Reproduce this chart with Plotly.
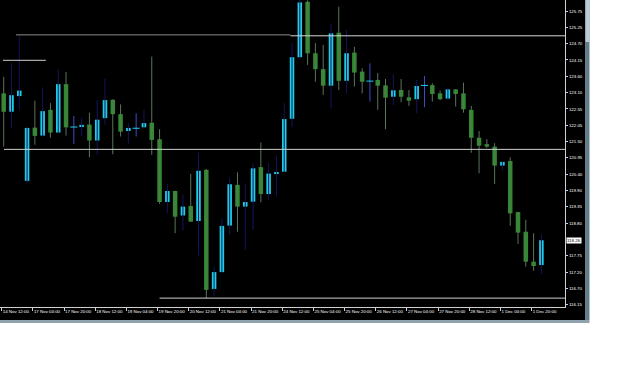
import plotly.graph_objects as go

# ---- data (H4 candles) ----
opens = [123.06, 122.46, 122.97, 120.20, 121.94, 121.68, 122.52, 121.78, 123.36, 121.96,
         121.97, 122.04, 121.52, 122.25, 122.85, 122.38, 121.83, 121.92, 121.95, 122.10,
         121.56, 119.51, 119.87, 119.07, 119.38, 118.89, 120.56, 116.67, 117.22, 118.74,
         120.07, 119.36, 119.52, 120.65, 119.77, 120.43, 120.50, 122.23, 124.24, 126.05,
         124.37, 123.85, 123.31, 125.04, 123.47, 124.39, 123.77, 123.46, 123.50, 123.32,
         122.95, 123.17, 122.93, 122.87, 123.32, 123.33, 123.06, 122.89, 123.19, 123.06,
         122.52, 121.61, 121.40, 121.32, 120.70, 120.85, 119.18, 118.54, 117.56, 117.45]
highs = [123.60, 124.06, 124.91, 121.96, 122.82, 123.26, 122.74, 123.85, 123.76, 122.32,
         122.25, 122.43, 122.84, 123.55, 122.86, 122.70, 122.08, 122.41, 122.52, 124.26,
         121.89, 120.10, 119.88, 119.74, 120.43, 121.12, 120.59, 117.40, 118.98, 120.29,
         120.48, 120.12, 120.78, 121.45, 120.78, 121.02, 122.74, 124.70, 126.11, 126.10,
         124.70, 124.64, 125.35, 125.89, 125.13, 124.58, 123.88, 124.04, 123.72, 123.53,
         123.69, 123.53, 123.17, 123.50, 123.63, 123.39, 123.15, 123.23, 123.19, 123.41,
         122.65, 121.83, 121.56, 121.43, 120.84, 120.97, 119.19, 118.93, 118.49, 118.46]
lows = [121.32, 121.92, 122.52, 120.13, 121.38, 121.64, 121.61, 121.75, 121.68, 121.41,
        121.67, 120.97, 121.05, 122.03, 121.07, 121.65, 121.41, 121.65, 121.93, 121.05,
        119.45, 119.14, 118.49, 118.58, 118.86, 117.75, 116.37, 116.42, 117.20, 118.44,
        118.54, 117.95, 118.60, 119.50, 119.58, 119.69, 120.49, 121.97, 124.20, 123.99,
        123.44, 123.01, 122.57, 123.17, 123.06, 123.28, 123.06, 122.79, 122.52, 121.89,
        122.68, 122.77, 122.65, 122.41, 122.61, 122.79, 122.84, 122.85, 122.63, 122.43,
        121.12, 120.45, 121.28, 120.10, 120.54, 118.73, 118.14, 117.40, 117.26, 117.16]
closes = [122.46, 123.00, 123.15, 121.93, 121.67, 122.48, 121.78, 123.36, 121.95, 121.96,
          122.03, 121.52, 122.20, 122.84, 122.38, 121.81, 121.93, 121.92, 122.09, 121.54,
          119.51, 119.87, 119.03, 119.36, 118.87, 120.53, 116.64, 117.22, 118.73, 120.09,
          119.36, 119.51, 120.61, 119.77, 120.44, 120.48, 122.22, 124.24, 126.03, 124.37,
          123.85, 123.31, 125.02, 123.47, 124.37, 123.74, 123.44, 123.46, 123.31, 122.92,
          123.16, 122.95, 122.82, 123.30, 123.32, 123.04, 122.87, 123.19, 123.04, 122.54,
          121.61, 121.35, 121.32, 120.70, 120.82, 119.14, 118.51, 117.56, 117.42, 118.26]

time_labels = ["14 Nov 12:00", "17 Nov 04:00", "17 Nov 20:00", "18 Nov 12:00", "19 Nov 04:00",
               "19 Nov 20:00", "20 Nov 12:00", "21 Nov 04:00", "21 Nov 20:00", "24 Nov 12:00",
               "25 Nov 04:00", "25 Nov 20:00", "26 Nov 12:00", "27 Nov 04:00", "27 Nov 20:00",
               "28 Nov 12:00", "1 Dec 04:00", "1 Dec 20:00"]
time_label_bars = [0, 4, 8, 12, 16, 20, 24, 28, 32, 36, 40, 44, 48, 52, 56, 60, 64, 68]

# price scale: 19 evenly spaced grid steps from 116.15 to 125.75; step 4 is hidden by the bid label
price_labels = ["116.15", "116.70", "117.20", "117.75", "118.80", "119.35", "119.90",
                "120.40", "120.95", "121.50", "122.05", "122.55", "123.10", "123.60", "124.15",
                "124.70", "125.25", "125.75"]
price_label_steps = [0, 1, 2, 3, 5, 6, 7, 8, 9, 10, 11, 12, 13, 14, 15, 16, 17, 18]
price_min, price_max, price_steps = 116.15, 125.75, 18

# horizontal level lines: price, start bar, end bar (None = right edge), colour
level_prices = [124.97, 124.94, 124.14, 121.23, 116.37]
level_starts = [1.58, 36.8, -0.09, 0.04, 20.0]
level_ends = [36.8, None, 5.4, None, None]
level_colors = ["#8a8a8a", "#d8d8d8", "#cfcfcf", "#d0d0d0", "#d0d0d0"]

bid_price = 118.26

# ---- styles ----
BULL = "#1fcde4"
BEAR = "#2e8c2e"
BULL_WICK = "#14145e"
BEAR_WICK = "#5b745b"
DOJI = "#3c4cc8"
XMIN, XMAX = -0.474, 72.03
YMIN, YMAX = 116.08, 126.11
FONT = "Liberation Sans"
FS = 4.4

n = len(opens)
idx = list(range(n))

fig = go.Figure()

# wicks
for kind, col in (("bull", BULL_WICK), ("bear", BEAR_WICK), ("doji", DOJI)):
    xs, ys = [], []
    for i in idx:
        o, c = opens[i], closes[i]
        k = "bull" if c > o else ("bear" if c < o else "doji")
        if k != kind:
            continue
        xs += [i, i, None]
        ys += [lows[i], highs[i], None]
    fig.add_trace(go.Scatter(x=xs, y=ys, mode="lines", line=dict(color=col, width=1),
                             hoverinfo="skip", showlegend=False))

# bodies
for kind, col in (("bull", BULL), ("bear", BEAR)):
    bx, bh, bb = [], [], []
    for i in idx:
        o, c = opens[i], closes[i]
        if (kind == "bull" and c > o) or (kind == "bear" and c < o):
            bx.append(i)
            bh.append(abs(c - o))
            bb.append(min(o, c))
    fig.add_trace(go.Bar(x=bx, y=bh, base=bb, width=0.58, marker=dict(color=col, line=dict(width=0)),
                         showlegend=False, hoverinfo="skip"))

# doji bodies
dx = [i for i in idx if opens[i] == closes[i]]
dy = [closes[i] for i in dx]
fig.add_trace(go.Scatter(x=dx, y=dy, mode="markers",
                         marker=dict(symbol="line-ew-open", size=5, line=dict(color=DOJI, width=1)),
                         showlegend=False, hoverinfo="skip"))

# level lines
for p, s, e, col in zip(level_prices, level_starts, level_ends, level_colors):
    fig.add_trace(go.Scatter(x=[s, XMAX if e is None else e], y=[p, p], mode="lines",
                             line=dict(color=col, width=1), showlegend=False, hoverinfo="skip"))

# frame shapes (terminal window look)
PW = 565.5
PH = 307
shapes = [
    dict(type="rect", xref="paper", yref="paper", x0=0, x1=586 / PW, y0=(PH - 320) / PH, y1=1,
         fillcolor="black", line=dict(width=0), layer="below"),
    dict(type="rect", xref="paper", yref="paper", x0=586 / PW, x1=590 / PW, y0=(PH - 320) / PH, y1=1,
         fillcolor="#5f7d8c", line=dict(width=0), layer="below"),
    dict(type="rect", xref="paper", yref="paper", x0=586 / PW, x1=590 / PW, y0=(PH - 42) / PH, y1=1,
         fillcolor="#bccbd3", line=dict(width=0), layer="below"),
    dict(type="rect", xref="paper", yref="paper", x0=0, x1=590 / PW, y0=(PH - 323) / PH, y1=(PH - 320) / PH,
         fillcolor="#8fa3ad", line=dict(width=0), layer="below"),
]

step = (price_max - price_min) / price_steps
price_ticks = [price_min + k * step for k in price_label_steps]

fig.update_layout(
    width=625, height=391,
    margin=dict(l=0, r=625 - PW, t=0, b=391 - PH, pad=0),
    paper_bgcolor="white", plot_bgcolor="black",
    barmode="overlay",
    shapes=shapes,
    font=dict(family=FONT, size=FS, color="white"),
    xaxis=dict(range=[XMIN, XMAX], showgrid=False, zeroline=False, showline=True, linecolor="#d0d0d0",
               linewidth=1, ticks="outside", ticklen=3, tickcolor="#d0d0d0", tickwidth=1,
               tickvals=[b - 0.25 for b in time_label_bars], ticktext=time_labels, tickangle=0,
               ticklabelposition="outside right", tickfont=dict(family=FONT, size=FS, color="white"),
               fixedrange=True),
    yaxis=dict(range=[YMIN, YMAX], side="right", showgrid=False, zeroline=False, showline=True,
               linecolor="#d0d0d0", linewidth=1, ticks="outside", ticklen=2, tickcolor="#d0d0d0",
               tickvals=price_ticks, ticktext=price_labels,
               tickfont=dict(family=FONT, size=FS, color="white"), fixedrange=True),
    annotations=[dict(xref="paper", yref="y", x=1.0, y=bid_price, xanchor="left", yanchor="middle",
                      xshift=1, text=f"{bid_price:.2f}", showarrow=False, bgcolor="white",
                      borderpad=0, font=dict(family=FONT, size=FS, color="black"))],
)

fig.write_html("out.html")
